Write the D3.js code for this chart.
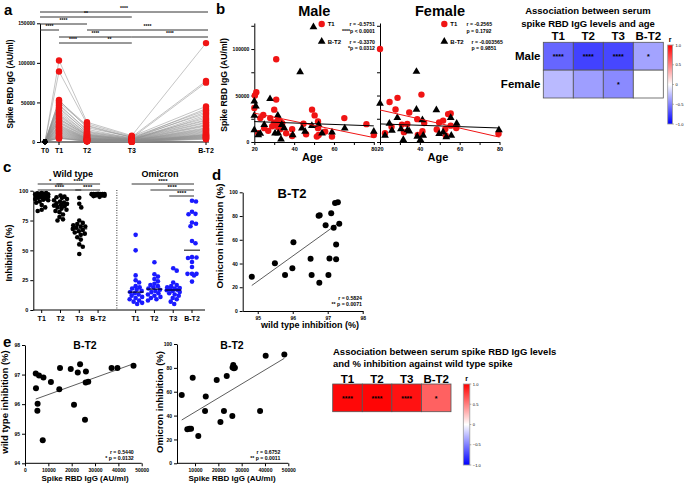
<!DOCTYPE html>
<html><head><meta charset="utf-8">
<script src="https://cdn.jsdelivr.net/npm/d3@7"></script>
<style>body{margin:0;background:#fff}svg{display:block}</style>
</head><body><svg id="c" width="685" height="486"></svg>
<script>
// ---------------- DATA ----------------
// panel a
const aCats = ['T0','T1','T2','T3','B-T2'];
const aMonths = [0, 1, 3, 6.2, 11.5];
const aT0 = [200,500,100,800,300,0,400,600,150,250,900,350,50,700,450,100,300,550,200,650,400,120,80,500,300,250,700,150,450,350,600,200,100,50,400,300,250,150,500,350];
const aT1 = [103000,89000,53000,52000,50000,48000,46000,44000,42000,40000,37000,35000,34000,32000,30000,29000,28000,26000,25000,24000,22000,21000,20000,19000,18000,17000,16000,15000,14000,13000,12000,11000,10000,9000,8000,7000,6000,5500,5000,4500];
const aT2 = [25000,23000,18000,21000,20000,14000,16000,12000,13000,10000,11000,9500,8000,9000,7500,8500,7000,6500,6000,5500,5000,4800,4500,4200,4000,3800,3500,3200,3000,2800,2500,2300,2000,1800,1600,1400,1200,1000,900,800];
const aT3 = [8000,7000,6500,6000,5500,5000,4700,4400,4100,3800,3500,3300,3100,2900,2700,2500,2300,2100,2000,1900,1800,1700,1600,1500,1400,1300,1200,1100,1000,900,800,700,650,600,550,500,450,400,300,200];
const aBT2 = [125000,45000,77000,40000,36000,75000,30000,42000,28000,38000,27000,25000,34000,24000,22000,32000,21000,20000,18000,17000,16000,15000,14000,13000,12000,11000,10000,9500,9000,8500,8000,7500,7000,6500,6000,5500,5000,4500,4000,3500];
const aSig = [[0,4,'****',12],[0,3,'**',17],[0,2,'****',24],[0,1,'****',30],[2,4,'****',30],[1,3,'****',37],[3,4,'****',37],[1,2,'****',43],[2,3,'**',43]];

// panel b  [age, IgG]
const maleT1 = [[21,53600],[20.3,50000],[20,36600],[22,9400],[23,25700],[24.5,29000],[25,14900],[28,25700],[30,34800],[31,89000],[31,45600],[30,21000],[31,18500],[32,24000],[33,13800],[34,20300],[32,16000],[36,9400],[39,13800],[39,6500],[44.7,19600],[46,8300],[49,34800],[50.3,28600],[52,22000],[52,14900],[52.3,7600],[51.4,5800],[55.6,11200],[59,5800],[65.2,25700],[76.3,19200],[80,7600],[29,17000],[33,22000],[27,12000]];
const maleBT2 = [[20,43800],[20.8,38400],[20,28600],[20,13000],[22,7600],[25,18500],[27.9,46400],[31.8,28600],[30.4,9400],[32,9400],[33.8,18500],[33.4,2900],[43,75400],[49.7,123600],[43.9,14900],[45.5,11200],[48.9,17400],[52.3,18500],[54,9400],[59,10500],[65.4,14900],[80,11200],[39.3,7600],[23,9000],[35,15000]];
const femaleT1 = [[20,100000],[24.8,43000],[27.8,35000],[28.8,47500],[34.7,31700],[40.8,51000],[38.7,24600],[22.5,9500],[25.8,16500],[31,18700],[33.7,19400],[32,10600],[39,7700],[41.3,11600],[42.2,20400],[48.5,13400],[49.7,21000],[51.7,23000],[54.2,30000],[55.5,30600],[52.8,14000],[53,7000],[55.5,17600],[58.3,15000],[79.5,8800]];
const femaleBT2 = [[20,41500],[38.3,75700],[38.3,35000],[48.3,34500],[28.7,26000],[24.7,20000],[22.5,7000],[26,12300],[30.5,14000],[31.7,2500],[33.8,13000],[34.7,11600],[38.7,6000],[40.3,2500],[41.3,23600],[41.7,7000],[49.7,8800],[51.7,10600],[53.3,5300],[55.5,26000],[55.8,7000],[58.5,20000],[79.7,13000]];
// linear fits [intercept, slope]
const fitMaleT1 = [39800, -438], fitMaleBT2 = [23500, -77];
const fitFemT1 = [44200, -487], fitFemBT2 = [20900, -73];
const statsMale = [['T1','r = -0.5751','****p < 0.0001'],['B-T2','r = -0.3370','*p = 0.0312']];
const statsFem = [['T1','r = -0.2565','p = 0.1792'],['B-T2','r = -0.003565','p = 0.9851']];

// heatmap 1 (age)
const hmCols = ['T1','T2','T3','B-T2'];
const hmRows = ['Male','Female'];
const hmAgeR = [[-0.60,-0.74,-0.72,-0.36],[-0.27,-0.38,-0.46,0.0]];
const hmAgeSig = [['****','****','****','*'],['','','*','']];
// heatmap 2 (inhibition)
const hmInhR = [0.97,0.98,0.93,0.62];
const hmInhSig = ['****','****','****','*'];
const cbTicks = [1.0,0.5,0,-0.5,-1.0];

// panel c
const cGroups = ['wT1','wT2','wT3','wBT2','gap','oT1','oT2','oT3','oBT2'];
const cLabels = ['T1','T2','T3','B-T2','','T1','T2','T3','B-T2'];
const wtT1 = [98,98,97.8,97.5,97.3,97,97,96.8,96.5,96.3,96,95.8,95.5,95.2,95,94.5,94,93.5,93,92.5,92,91,90,88,86,84,83];
const wtT2 = [96,95,94.5,94,93,92,91,90,89.5,89,88,87.5,87,86,85,84,83,82,80,78,76,75];
const wtT3 = [94,89,86,75,73,72,71,70,70,69,68,67,66,65,64,63,61,59,55,53,47];
const omT1 = [63,50,29,25,23,20,19,18,17,16,15,14,13,12,11,10,9,8,7,6,5];
const omT2 = [40,30,28,26,24,22,21,20,19,18,17,16,15,14,13,12,11,10,9,8];
const omT3 = [35,33,23,21,20,19,18.5,18,17.5,17,16.5,16,15,14,13,12,10,9,7,5];
const cSig = [[0,1,'*',184],[1,3,'****',184],[0,2,'****',190],[2,3,'****',190],[5,8,'****',184],[6,8,'****',190],[7,8,'****',196]];

// panel d  [wild type inhibition, omicron inhibition] at B-T2
const dPts = [[94.83,28.9],[95.49,40.2],[95.78,30.3],[95.99,36],[96.02,57.9],[96.51,44.0],[96.54,30.3],[96.76,23.8],[96.74,80.2],[96.77,80.6],[96.94,72.3],[97.02,30.3],[97.05,44.3],[97.1,82.3],[97.17,70.2],[97.21,91.0],[97.24,56.0],[97.24,43.6],[97.29,91.6],[97.33,73.4]];
const fitD = [-1988.9, 21.2];
const statsD = ['r = 0.5824','** p = 0.0071'];

// panel e  [RBD IgG, inhibition]
const eWT = [[4600,97.04],[6000,96.97],[4700,96.54],[5300,95.78],[5400,96.01],[7600,94.78],[7900,96.9],[11100,96.75],[14700,96.5],[15000,97.22],[19600,97.19],[21000,95.98],[22600,97.07],[23600,97.35],[26100,97.1],[26000,96.73],[27100,96.76],[25700,95.47],[37100,97.22],[39600,97.22],[46500,97.3]];
const fitEWT = [96.04, 0.0000285];
const statsEWT = ['r = 0.5440','* p = 0.0132'];
const eOm = [[4300,57.3],[6700,28.5],[7600,29],[8300,29],[9000,71.8],[11400,22.9],[14600,55.9],[14300,43.8],[19300,69.8],[20900,34.6],[22400,43.8],[23600,73.2],[26000,39.7],[26100,80.4],[26400,82.4],[26700,79.6],[27100,80],[37900,43.8],[40300,90.2],[48300,91.3]];
const fitEOm = [31.25, 0.001175];
const statsEOm = ['r = 0.6752','** p = 0.0011'];

// ---------------- DRAW ----------------
const FONT = '"Liberation Sans", Arial, Helvetica, sans-serif';
const RED = '#f01414', BLUE = '#1a1aff';
const svg = d3.select('#c').attr('font-family', FONT);

function T(x, y, s, fs, anchor, rot, fill) {
  const t = svg.append('text').attr('font-size', fs).attr('font-weight', 'bold')
    .attr('text-anchor', anchor || 'start').attr('fill', fill || '#000').text(s);
  if (rot) t.attr('transform', `translate(${x},${y}) rotate(-90)`); else t.attr('x', x).attr('y', y);
  return t;
}
function styleAxis(g, fs) {
  g.attr('font-family', FONT).attr('font-size', fs).attr('font-weight', 'bold');
  g.select('.domain').attr('stroke', '#000').attr('stroke-width', 1);
  g.selectAll('.tick line').attr('stroke', '#000');
  g.selectAll('.tick text').attr('fill', '#000');
}
const tri = d3.symbol().type(d3.symbolTriangle).size(26);
const fmtInt = d3.format('d');

// ===== Panel a =====
T(4, 15, 'a', 15, 'start');
const xA = d3.scaleLinear().domain([0, 11.5]).range([45, 206]);
const yA = d3.scaleLinear().domain([0, 150000]).range([142, 23.3]);
svg.append('g').attr('transform', 'translate(40,0)')
  .call(d3.axisLeft(yA).tickValues([0, 50000, 100000, 150000]).tickSize(3).tickSizeOuter(0).tickFormat(fmtInt).tickPadding(2))
  .call(g => styleAxis(g, 5));
svg.append('line').attr('x1', 40).attr('x2', 209).attr('y1', yA(0)).attr('y2', yA(0)).attr('stroke', '#000');
aMonths.forEach((m, i) => {
  svg.append('line').attr('x1', xA(m)).attr('x2', xA(m)).attr('y1', yA(0)).attr('y2', yA(0) + 3).attr('stroke', '#000');
  T(xA(m), 153, aCats[i], 7, 'middle');
});
T(13, 84, 'Spike RBD IgG (AU/ml)', 8.2, 'middle', true);
const subj = d3.range(aT1.length).map(i => [aT0[i], aT1[i], aT2[i], aT3[i], aBT2[i]]);
const lineA = d3.line().x((d, j) => xA(aMonths[j])).y(d => yA(d));
svg.append('g').selectAll('path').data(subj).join('path').attr('d', lineA)
  .attr('fill', 'none').attr('stroke', '#8a8a8a').attr('stroke-width', 0.5);
const aDots = subj.flatMap(s => s.map((v, j) => ({ j, v })));
svg.append('g').selectAll('circle').data(aDots).join('circle')
  .attr('cx', d => xA(aMonths[d.j])).attr('cy', d => yA(d.v)).attr('r', d => d.j === 0 ? 2.3 : 3.2)
  .attr('fill', d => d.j === 0 ? '#000' : RED);
aSig.forEach(([a, b, lab, y]) => {
  const x1 = a === 0 ? 40 : xA(aMonths[a]), x2 = xA(aMonths[b]) + (b === 4 ? 2 : 0);
  svg.append('line').attr('x1', x1).attr('x2', x2).attr('y1', y).attr('y2', y).attr('stroke', '#333').attr('stroke-width', 1);
  T((x1 + x2) / 2, y - 1.8, lab, 5, 'middle');
});

// ===== Panel b =====
T(216, 14, 'b', 15, 'start');
const yB = d3.scaleLinear().domain([0, 128000]).range([142, 23]);
function agePanel(x0, pts1, pts2, fit1, fit2, title, labels, stats, leg) {
  const xs = d3.scaleLinear().domain([20, 80]).range([x0, x0 + 119.5]);
  svg.append('g').attr('transform', `translate(${x0},0)`)
    .call(d3.axisLeft(yB).tickValues(d3.range(0, 128001, 25000)).tickSize(3).tickSizeOuter(0).tickPadding(2)
      .tickFormat(d => labels && d % 50000 === 0 ? d : ''))
    .call(g => styleAxis(g, 5));
  svg.append('g').attr('transform', `translate(0,142)`)
    .call(d3.axisBottom(xs).tickValues(d3.range(20, 81, 10)).tickSize(3).tickSizeOuter(0).tickPadding(2)
      .tickFormat(d => d % 20 === 0 ? d : ''))
    .call(g => styleAxis(g, 5.5));
  const cx = x0 + 60;
  T(cx, 16, title, 14.5, 'middle');
  T(cx - 2, 161, 'Age', 11, 'middle');
  const ln = (f) => svg.append('line').attr('x1', xs(20)).attr('x2', xs(80)).attr('y1', yB(f[0] + f[1] * 20)).attr('y2', yB(f[0] + f[1] * 80));
  svg.append('g').selectAll('circle').data(pts1).join('circle')
    .attr('cx', d => xs(d[0])).attr('cy', d => yB(d[1])).attr('r', 3.2).attr('fill', RED);
  svg.append('g').selectAll('path').data(pts2).join('path').attr('d', tri)
    .attr('transform', d => `translate(${xs(d[0])},${yB(d[1])})`).attr('fill', '#000');
  ln(fit1).attr('stroke', RED).attr('stroke-width', 1);
  ln(fit2).attr('stroke', '#000').attr('stroke-width', 1);
  // legend
  svg.append('circle').attr('cx', leg.sx).attr('cy', 24).attr('r', 3.2).attr('fill', RED);
  svg.append('path').attr('d', tri).attr('transform', `translate(${leg.sx},41.5)`).attr('fill', '#000');
  T(leg.sx + 6, 26, stats[0][0], 6, 'start');
  T(leg.sx + 6, 43.5, stats[1][0], 6, 'start');
  const anc = leg.anchor;
  T(leg.rx1, 26, stats[0][1], 5.2, anc); T(leg.rx1, 32.5, stats[0][2], 5.2, anc);
  T(leg.rx2, 43.5, stats[1][1], 5.2, anc); T(leg.rx2, 50, stats[1][2], 5.2, anc);
}
agePanel(254.3, maleT1, maleBT2, fitMaleT1, fitMaleBT2, 'Male', true, statsMale, { sx: 321.7, rx1: 375, rx2: 375, anchor: 'end' });
agePanel(380, femaleT1, femaleBT2, fitFemT1, fitFemBT2, 'Female', false, statsFem, { sx: 444.3, rx1: 466.5, rx2: 471.5, anchor: 'start' });
T(226.5, 85, 'Spike RBD IgG (AU/ml)', 8.6, 'middle', true);

// ===== heatmaps shared =====
const color = d3.scaleLinear().domain([-1, 0, 1]).range(['#0000ff', '#ffffff', '#ff0000']);
const defs = svg.append('defs');
const grad = defs.append('linearGradient').attr('id', 'cb').attr('x1', 0).attr('x2', 0).attr('y1', 0).attr('y2', 1);
[1, 0.5, 0, -0.5, -1].forEach((v, i) => grad.append('stop').attr('offset', i / 4).attr('stop-color', color(v)));
function colorbar(x, y0, y1, w) {
  const s = d3.scaleLinear().domain([1, -1]).range([y0, y1]);
  svg.append('rect').attr('x', x).attr('y', y0).attr('width', w).attr('height', y1 - y0).attr('fill', 'url(#cb)').attr('stroke', '#999').attr('stroke-width', 0.8);
  cbTicks.forEach(v => {
    svg.append('line').attr('x1', x + w).attr('x2', x + w + 1.5).attr('y1', s(v)).attr('y2', s(v)).attr('stroke', '#666').attr('stroke-width', 0.5);
    svg.append('text').attr('x', x + w + 3).attr('y', s(v) + 1.5).attr('font-size', 4).attr('fill', '#000').text(v === 0 ? '0' : d3.format('.1f')(v));
  });
  T(x + w / 2, y0 - 3, 'r', 7, 'middle');
}

// heatmap 1
T(588, 14, 'Association between serum', 9.5, 'middle');
T(588, 26.5, 'spike RBD IgG levels and age', 9.5, 'middle');
const hx = d3.scaleBand().domain(hmCols).range([543.3, 663.3]);
const hy = d3.scaleBand().domain(hmRows).range([42.3, 98]);
hmCols.forEach(c => T(hx(c) + hx.bandwidth() / 2, 40, c, 11.5, 'middle'));
hmRows.forEach(r => T(540.5, hy(r) + hy.bandwidth() / 2 + 4, r, 11.5, 'end'));
hmRows.forEach((r, i) => hmCols.forEach((c, j) => {
  svg.append('rect').attr('x', hx(c)).attr('y', hy(r)).attr('width', hx.bandwidth()).attr('height', hy.bandwidth())
    .attr('fill', color(hmAgeR[i][j])).attr('stroke', '#555').attr('stroke-width', 0.8);
  if (hmAgeSig[i][j]) T(hx(c) + hx.bandwidth() / 2, hy(r) + hy.bandwidth() / 2 + 3, hmAgeSig[i][j], 7, 'middle');
}));
colorbar(667.7, 45, 124, 4.8);

// heatmap 2
T(333, 355, 'Association between serum spike RBD IgG levels', 9.5, 'start');
T(333, 367, 'and % inhibition against wild type spike', 9.5, 'start');
const hx2 = d3.scaleBand().domain(hmCols).range([332.7, 451]);
hmCols.forEach((c, j) => {
  T(hx2(c) + hx2.bandwidth() / 2, 383, c, 11.5, 'middle');
  svg.append('rect').attr('x', hx2(c)).attr('y', 384).attr('width', hx2.bandwidth()).attr('height', 27.7)
    .attr('fill', color(hmInhR[j])).attr('stroke', '#555').attr('stroke-width', 0.8);
  T(hx2(c) + hx2.bandwidth() / 2, 401, hmInhSig[j], 7, 'middle');
});
colorbar(463.3, 384, 465, 6.5);

// ===== Panel c =====
T(3, 172, 'c', 15, 'start');
const xC = d3.scalePoint().domain(cGroups).range([41.7, 192]);
const yC = d3.scaleLinear().domain([0, 100]).range([310, 190.7]);
svg.append('g').attr('transform', 'translate(33.3,0)')
  .call(d3.axisLeft(yC).tickValues([0, 25, 50, 75, 100]).tickSize(3).tickSizeOuter(0).tickPadding(2))
  .call(g => styleAxis(g, 5.5));
svg.append('line').attr('x1', 33.3).attr('x2', 205).attr('y1', 310).attr('y2', 310).attr('stroke', '#000');
cGroups.forEach((g, i) => {
  if (g === 'gap') return;
  svg.append('line').attr('x1', xC(g)).attr('x2', xC(g)).attr('y1', 310).attr('y2', 313).attr('stroke', '#000');
  T(xC(g), 321, cLabels[i], 7, 'middle');
});
svg.append('line').attr('x1', xC('gap')).attr('x2', xC('gap')).attr('y1', 190).attr('y2', 310)
  .attr('stroke', '#000').attr('stroke-width', 0.8).attr('stroke-dasharray', '1,1.5');
T(73, 177, 'Wild type', 9, 'middle');
T(160, 177, 'Omicron', 9, 'middle');
T(12, 253, 'Inhibition (%)', 9, 'middle', true);
// dot-plot layout: spread overlapping points sideways, limited to +/- maxOff px
function swarm(vals, cx, r, maxOff) {
  const pts = vals.map(v => ({ v, y: yC(v) })).sort((a, b) => d3.descending(a.v, b.v));
  const placed = [], md = r * 1.75;
  const cands = [];
  for (let k = 0; ; k++) {
    const c = (k % 2 ? 1 : -1) * Math.ceil(k / 2) * 0.5;
    if (Math.abs(c) > maxOff) break;
    cands.push(c);
  }
  pts.forEach(p => {
    let best = 0, bestD = -1;
    for (const c of cands) {
      const dmin = placed.length ? d3.min(placed, q => Math.hypot(q.x - (cx + c), q.y - p.y)) : Infinity;
      if (dmin >= md) { best = c; bestD = Infinity; break; }
      if (dmin > bestD) { bestD = dmin; best = c; }
    }
    p.x = cx + best; placed.push(p);
  });
  return placed;
}
const cSets = [[wtT1, 'wT1', '#000'], [wtT2, 'wT2', '#000'], [wtT3, 'wT3', '#000'], [dPts.map(d => d[0]), 'wBT2', '#000'],
  [omT1, 'oT1', BLUE], [omT2, 'oT2', BLUE], [omT3, 'oT3', BLUE], [dPts.map(d => d[1]), 'oBT2', BLUE]];
cSets.forEach(([vals, g, col]) => {
  const pts = swarm(vals, xC(g), 2.3, 6.5);
  svg.append('g').selectAll('circle').data(pts).join('circle')
    .attr('cx', d => d.x).attr('cy', d => d.y).attr('r', 2.3).attr('fill', col);
  const m = d3.median(vals);
  svg.append('line').attr('x1', xC(g) - 8).attr('x2', xC(g) + 8).attr('y1', yC(m)).attr('y2', yC(m)).attr('stroke', '#000').attr('stroke-width', 1);
});
cSig.forEach(([a, b, lab, y]) => {
  const x1 = xC(cGroups[a]) - 4, x2 = xC(cGroups[b]) + 2;
  svg.append('line').attr('x1', x1).attr('x2', x2).attr('y1', y).attr('y2', y).attr('stroke', '#000').attr('stroke-width', 0.8);
  T((x1 + x2) / 2, y - 1.5, lab, 6, 'middle');
});

// ===== Panel d =====
T(212, 180, 'd', 15, 'start');
const xD = d3.scaleLinear().domain([94.57, 98]).range([242.7, 362.7]);
const yD = d3.scaleLinear().domain([0, 100]).range([311, 192.3]);
svg.append('g').attr('transform', 'translate(242.7,0)')
  .call(d3.axisLeft(yD).tickValues([0, 20, 40, 60, 80, 100]).tickSize(3).tickSizeOuter(0).tickPadding(2).tickFormat(fmtInt))
  .call(g => styleAxis(g, 5));
svg.append('g').attr('transform', 'translate(0,311)')
  .call(d3.axisBottom(xD).tickValues([95, 96, 97, 98]).tickSize(3).tickSizeOuter(0).tickPadding(2).tickFormat(fmtInt))
  .call(g => styleAxis(g, 5));
T(292, 198, 'B-T2', 13, 'middle');
T(223, 236, 'Omicron inhibition (%)', 9.8, 'middle', true);
T(310, 328, 'wild type inhibition (%)', 9, 'middle');
const dx = d3.extent(dPts, d => d[0]);
svg.append('line').attr('x1', xD(dx[0])).attr('x2', xD(dx[1]))
  .attr('y1', yD(fitD[0] + fitD[1] * dx[0])).attr('y2', yD(fitD[0] + fitD[1] * dx[1])).attr('stroke', '#333').attr('stroke-width', 0.8);
svg.append('g').selectAll('circle').data(dPts).join('circle')
  .attr('cx', d => xD(d[0])).attr('cy', d => yD(d[1])).attr('r', 3).attr('fill', '#000');
T(362, 300, statsD[0], 5.2, 'end'); T(362, 306, statsD[1], 5.2, 'end');

// ===== Panel e =====
T(3, 347, 'e', 15, 'start');
function ePanel(pts, fit, stats, xs, ys, yTicks, axX0, title, ylab, ylx, cx) {
  svg.append('g').attr('transform', `translate(${axX0},0)`)
    .call(d3.axisLeft(ys).tickValues(yTicks).tickSize(3).tickSizeOuter(0).tickPadding(2).tickFormat(fmtInt))
    .call(g => styleAxis(g, 5));
  const gx = svg.append('g').attr('transform', 'translate(0,463.3)')
    .call(d3.axisBottom(xs).tickValues(d3.range(0, 50001, 10000).filter(v => xs(v) >= axX0 - 0.5)).tickSize(3).tickSizeOuter(0).tickPadding(2).tickFormat(fmtInt))
    .call(g => styleAxis(g, 5));
  gx.select('.domain').remove();
  svg.append('line').attr('x1', axX0).attr('x2', xs(50000)).attr('y1', 463.3).attr('y2', 463.3).attr('stroke', '#000');
  T(cx, 349, title, 10.5, 'middle');
  T(ylx, 402, ylab, 9.5, 'middle', true);
  T(cx, 481, 'Spike RBD IgG (AU/ml)', 8, 'middle');
  const ex = d3.extent(pts, d => d[0]);
  svg.append('line').attr('x1', xs(ex[0])).attr('x2', xs(ex[1]))
    .attr('y1', ys(fit[0] + fit[1] * ex[0])).attr('y2', ys(fit[0] + fit[1] * ex[1])).attr('stroke', '#333').attr('stroke-width', 0.8);
  svg.append('g').selectAll('circle').data(pts).join('circle')
    .attr('cx', d => xs(d[0])).attr('cy', d => ys(d[1])).attr('r', 3).attr('fill', '#000');
  T(xs(50000) - 8, 454, stats[0], 5.2, 'end'); T(xs(50000) - 8, 460, stats[1], 5.2, 'end');
}
const xEL = d3.scaleLinear().domain([0, 50000]).range([25, 141.7]);
const yEL = d3.scaleLinear().domain([94, 98]).range([463.3, 345]);
ePanel(eWT, fitEWT, statsEWT, xEL, yEL, [94, 95, 96, 97, 98], 25, 'B-T2', 'wild type inhibition (%)', 8, 85);
const xER = d3.scaleLinear().domain([0, 50000]).range([171.7, 288.3]);
const yER = d3.scaleLinear().domain([0, 100]).range([463.3, 344]);
ePanel(eOm, fitEOm, statsEOm, xER, yER, [0, 20, 40, 60, 80, 100], 177, 'B-T2', 'Omicron inhibition (%)', 163, 232);
</script></body></html>
